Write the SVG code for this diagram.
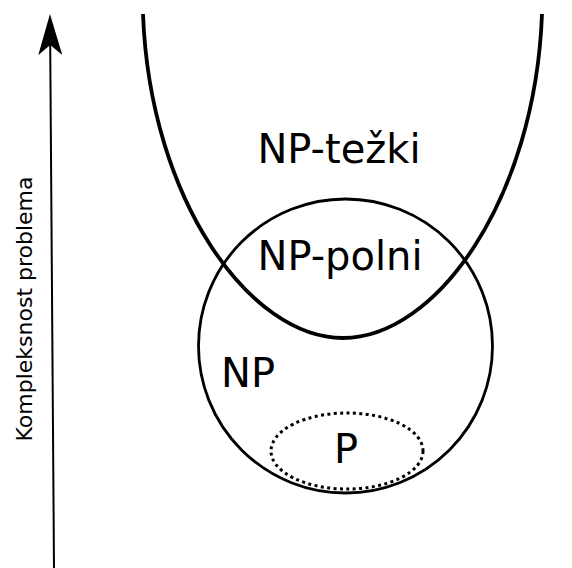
<svg xmlns="http://www.w3.org/2000/svg" width="572" height="568" viewBox="0 0 572 568">
  <style>
    .lbl { font-family: "DejaVu Sans", "Liberation Sans", sans-serif; fill: #000; }
    .big { font-size: 40px; }
    .axis { font-size: 22px; }
    .shape { fill: none; stroke: #000; }
  </style>
  <defs>
    <marker id="arrowhead" viewBox="0 0 41 24" refX="10" refY="12" markerWidth="41" markerHeight="24" markerUnits="userSpaceOnUse" orient="auto">
      <path d="M41,12 L0,0 L10,12 L0,24 Z" fill="#000"/>
    </marker>
  </defs>
  <rect width="572" height="568" fill="#fff"/>

  <g id="np-hard">
    <path class="shape" stroke-width="3.8" d="M143,14 C150,200 250,338 343,338 C436,338 535,200 542,14"/>
    <text class="lbl big" x="339" y="163" text-anchor="middle">NP-težki</text>
  </g>

  <g id="np">
    <circle class="shape" stroke-width="2.8" cx="345.5" cy="346" r="147"/>
    <text class="lbl big" x="248" y="387" text-anchor="middle">NP</text>
  </g>

  <g id="np-complete">
    <text class="lbl big" x="340" y="270" text-anchor="middle">NP-polni</text>
  </g>

  <g id="p">
    <ellipse class="shape" stroke-width="3" stroke-dasharray="3 3.4" cx="347" cy="451" rx="76" ry="38"/>
    <text class="lbl big" x="346" y="463" text-anchor="middle">P</text>
  </g>

  <g id="axis-label">
    <text class="lbl axis" transform="translate(31.5,309) rotate(-90)" text-anchor="middle">Kompleksnost problema</text>
  </g>

  <g id="connectors">
    <path class="shape" stroke-width="2" d="M54,568 L50.2,45" marker-end="url(#arrowhead)"/>
  </g>
</svg>
